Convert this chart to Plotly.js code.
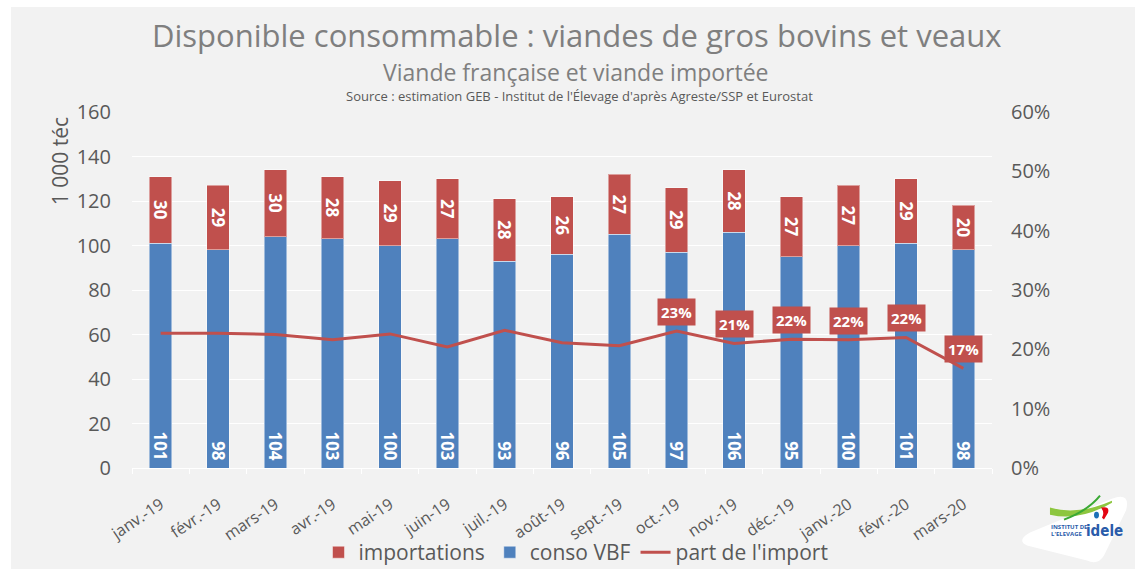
<!DOCTYPE html>
<html>
<head>
<meta charset="utf-8">
<script src="https://cdn.plot.ly/plotly-3.0.1.min.js"></script>
<style>
  html, body { margin: 0; padding: 0; background: #ffffff; }
  #chart { position: absolute; left: 11px; top: 7px; width: 1124px; height: 562px; }
</style>
</head>
<body>
<div id="chart"></div>
<script>
// ---- Data ----
const months = ['janv.-19','févr.-19','mars-19','avr.-19','mai-19','juin-19','juil.-19','août-19','sept.-19','oct.-19','nov.-19','déc.-19','janv.-20','févr.-20','mars-20'];
const consoVBF = [101, 98, 104, 103, 100, 103, 93, 96, 105, 97, 106, 95, 100, 101, 98];
const importations = [30, 29, 30, 28, 29, 27, 28, 26, 27, 29, 28, 27, 27, 29, 20];
const partImport = [22.7, 22.7, 22.5, 21.6, 22.6, 20.4, 23.2, 21.1, 20.6, 23.1, 21.0, 21.7, 21.6, 22.0, 16.8];
const partLabels = ['', '', '', '', '', '', '', '', '', '23%', '21%', '22%', '22%', '22%', '17%'];

const RED = '#c0504d', BLUE = '#4f81bd', TXT = '#595959';
const FONT = '"Open Sans", "DejaVu Sans", sans-serif';

// page pixel -> paper helpers (for decorations only)
const X0 = 132, X1 = 992, Y0 = 468.3, Y1 = 111.7;
const px = x => (x - X0) / (X1 - X0);
const py = y => (Y0 - y) / (Y0 - Y1);
const P = (x, y) => px(x).toFixed(4) + ',' + py(y).toFixed(4);

const traces = [
  {
    type: 'bar', name: 'conso VBF', x: months, y: consoVBF,
    marker: { color: BLUE, line: { color: 'rgba(255,255,255,0.45)', width: 1 } },
    text: consoVBF.map(v => String(v) + '\u00a0'), textposition: 'inside', insidetextanchor: 'start',
    textangle: 90, constraintext: 'none',
    textfont: { family: FONT, size: 17, color: '#ffffff', weight: 'bold' },
    hoverinfo: 'skip', showlegend: true, legendrank: 2
  },
  {
    type: 'bar', name: 'importations', x: months, y: importations,
    marker: { color: RED, line: { color: 'rgba(255,255,255,0.45)', width: 1 } },
    text: importations.map(String), textposition: 'inside', insidetextanchor: 'middle',
    textangle: 90, constraintext: 'none',
    textfont: { family: FONT, size: 17, color: '#ffffff', weight: 'bold' },
    hoverinfo: 'skip', legendrank: 1
  },
  {
    type: 'scatter', mode: 'lines', name: "part de l'import", x: months,
    y: partImport.map(v => v / 100), yaxis: 'y2',
    line: { color: RED, width: 3 }, hoverinfo: 'skip', legendrank: 3
  }
];

const annotations = [
  { text: 'Disponible consommable : viandes de gros bovins et veaux', xref: 'paper', yref: 'paper',
    x: px(577), y: py(35), showarrow: false, xanchor: 'center', yanchor: 'middle',
    font: { family: FONT, size: 31, color: '#7f7f7f' } },
  { text: 'Viande française et viande importée', xref: 'paper', yref: 'paper',
    x: px(576), y: py(72), showarrow: false, xanchor: 'center', yanchor: 'middle',
    font: { family: FONT, size: 23, color: '#7f7f7f' } },
  { text: "Source : estimation GEB - Institut de l'Élevage d'après Agreste/SSP et Eurostat", xref: 'paper', yref: 'paper',
    x: px(579), y: py(96), showarrow: false, xanchor: 'center', yanchor: 'middle',
    font: { family: FONT, size: 13, color: TXT } },
  { text: '1 000 téc', xref: 'paper', yref: 'paper', x: px(60), y: py(161), textangle: -90,
    showarrow: false, xanchor: 'center', yanchor: 'middle',
    font: { family: FONT, size: 21, color: TXT } },
  // logo texts
  { text: '<b>INSTITUT DE</b>', xref: 'paper', yref: 'paper', x: px(1049), y: py(527), xanchor: 'left', yanchor: 'middle',
    showarrow: false, font: { family: FONT, size: 6, color: '#2a5caa' } },
  { text: "<b>L'ELEVAGE</b>", xref: 'paper', yref: 'paper', x: px(1049), y: py(534), xanchor: 'left', yanchor: 'middle',
    showarrow: false, font: { family: FONT, size: 6, color: '#2a5caa' } },
  { text: '<b>idele</b>', xref: 'paper', yref: 'paper', x: px(1084), y: py(531), xanchor: 'left', yanchor: 'middle',
    showarrow: false, font: { family: '"DejaVu Sans Condensed", "DejaVu Sans", sans-serif', size: 15, color: '#2a5caa' } }
];

partLabels.forEach((lab, i) => {
  if (!lab) return;
  annotations.push({
    text: '<b>' + lab + '</b>', x: months[i], y: partImport[i] / 100, xref: 'x', yref: 'y2',
    yshift: 19, showarrow: false, xanchor: 'center', yanchor: 'middle',
    bgcolor: RED, borderpad: 3, font: { family: FONT, size: 15, color: '#ffffff' }
  });
});

const shapes = [
  // logo background
  { type: 'path', xref: 'paper', yref: 'paper', fillcolor: '#ffffff', line: { width: 0 },
    path: 'M' + P(1030, 533) + ' L' + P(1112, 499) + ' Q' + P(1131, 492) + ' ' + P(1126, 511) +
          ' L' + P(1104, 556) + ' Q' + P(1098, 566) + ' ' + P(1087, 561) + ' L' + P(1027, 546) +
          ' Q' + P(1016, 541) + ' ' + P(1030, 533) + ' Z' },
  // light green swoosh
  { type: 'path', xref: 'paper', yref: 'paper', fillcolor: '#8dc63f', line: { width: 0 },
    path: 'M' + P(1050, 508) + ' Q' + P(1078, 516) + ' ' + P(1112, 501) + ' L' + P(1112, 503) +
          ' Q' + P(1080, 522) + ' ' + P(1050, 515) + ' Z' },
  // dark green stroke
  { type: 'path', xref: 'paper', yref: 'paper', line: { color: '#3aa935', width: 2 },
    path: 'M' + P(1064, 520) + ' Q' + P(1088, 511) + ' ' + P(1100, 496) },
  // red mark
  { type: 'path', xref: 'paper', yref: 'paper', fillcolor: '#e30613', line: { width: 0 },
    path: 'M' + P(1101, 508) + ' Q' + P(1110, 506) + ' ' + P(1108, 513) + ' L' + P(1104, 520) +
          ' L' + P(1102, 518) + ' Q' + P(1105, 513) + ' ' + P(1101, 508) + ' Z' },
  // blue drop
  { type: 'circle', xref: 'paper', yref: 'paper', fillcolor: '#1d71b8', line: { width: 0 },
    x0: px(1094), x1: px(1099), y0: py(519), y1: py(512) }
];

const layout = {
  width: 1124, height: 562,
  margin: { l: 121, r: 143, t: 105, b: 101, autoexpand: false },
  paper_bgcolor: '#f2f2f2', plot_bgcolor: '#f2f2f2',
  font: { family: FONT, color: TXT },
  barmode: 'stack', bargap: 0.61,
  showlegend: true,
  legend: { orientation: 'h', x: px(576), xanchor: 'center', y: py(553), yanchor: 'middle',
    font: { family: FONT, size: 21, color: TXT }, traceorder: 'normal', itemwidth: 30,
    bgcolor: 'rgba(0,0,0,0)' },
  xaxis: {
    type: 'category', tickangle: -34, tickfont: { family: FONT, size: 16, color: TXT },
    showline: true, linecolor: '#ffffff', linewidth: 1,
    ticks: 'outside', tickson: 'boundaries', ticklen: 5, tickcolor: '#ffffff',
    showgrid: false, ticklabelstandoff: 20, fixedrange: true, automargin: false
  },
  yaxis: {
    range: [0, 160], dtick: 20, tickfont: { family: FONT, size: 20, color: TXT },
    showgrid: true, gridcolor: '#ffffff', gridwidth: 1, zeroline: false,
    ticklabelstandoff: 20, fixedrange: true, automargin: false
  },
  yaxis2: {
    overlaying: 'y', side: 'right', range: [0, 0.6], dtick: 0.1, tickformat: '.0%',
    tickfont: { family: FONT, size: 20, color: TXT }, showgrid: false, zeroline: false,
    ticklabelstandoff: 18, fixedrange: true, automargin: false
  },
  annotations: annotations,
  shapes: shapes
};

Plotly.newPlot('chart', traces, layout, { displayModeBar: false, staticPlot: true });
</script>
</body>
</html>
